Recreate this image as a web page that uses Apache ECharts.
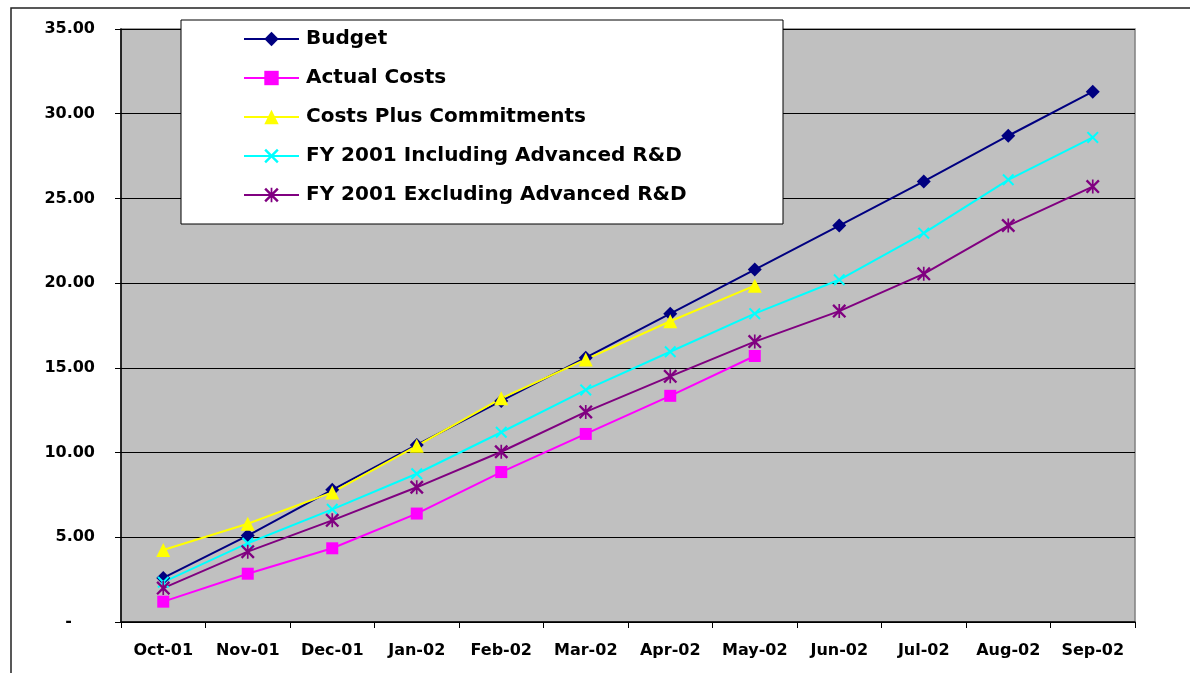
<!DOCTYPE html>
<html>
<head>
<meta charset="utf-8">
<script src="https://cdn.jsdelivr.net/npm/echarts@6/dist/echarts.min.js"></script>
<style>html,body{margin:0;padding:0;background:#fff}#c{width:1190px;height:673px}</style>
</head>
<body>
<div id="c"></div>
<script>
var categories = ['Oct-01','Nov-01','Dec-01','Jan-02','Feb-02','Mar-02','Apr-02','May-02','Jun-02','Jul-02','Aug-02','Sep-02'];
var budget = [2.6, 5.1, 7.8, 10.45, 13.05, 15.6, 18.2, 20.8, 23.4, 26.0, 28.7, 31.3];
var actualCosts = [1.2, 2.85, 4.35, 6.4, 8.85, 11.1, 13.35, 15.7];
var costsPlusCommitments = [4.25, 5.8, 7.65, 10.4, 13.2, 15.5, 17.75, 19.85];
var fyIncluding = [2.35, 4.65, 6.65, 8.75, 11.2, 13.7, 15.95, 18.2, 20.2, 22.95, 26.1, 28.6];
var fyExcluding = [2.0, 4.15, 6.0, 7.95, 10.05, 12.4, 14.5, 16.55, 18.35, 20.55, 23.4, 25.7];
var seriesNames = ['Budget','Actual Costs','Costs Plus Commitments','FY 2001 Including Advanced R&D','FY 2001 Excluding Advanced R&D'];

var xPath = 'path://M0,1.2 L1.2,0 L5,3.8 L8.8,0 L10,1.2 L6.2,5 L10,8.8 L8.8,10 L5,6.2 L1.2,10 L0,8.8 L3.8,5 Z';
var starPath = 'path://M0,1.2 L1.2,0 L5,3.8 L8.8,0 L10,1.2 L6.2,5 L10,8.8 L8.8,10 L5,6.2 L1.2,10 L0,8.8 L3.8,5 Z M4.4,0 L5.6,0 L5.6,10 L4.4,10 Z';

var font = 'DejaVu Sans';
function mk(name, data, color, symbol, size) {
  return {
    name: name, type: 'line', data: data, symbol: symbol, symbolSize: size,
    showAllSymbol: true,
    lineStyle: {color: color, width: 2},
    itemStyle: {color: color, borderColor: color, borderWidth: 0},
    emphasis: {disabled: true},
    animation: false
  };
}

var chart = echarts.init(document.getElementById('c'), null, {renderer: 'canvas'});
chart.setOption({
  animation: false,
  grid: {left: 121, right: 55, top: 29, bottom: 51, show: true, backgroundColor: '#C0C0C0', borderColor: '#808080', borderWidth: 1.5},
  graphic: [
    {type: 'polyline', shape: {points: [[11,673],[11,8],[1190,8]]}, style: {stroke: '#222', lineWidth: 1.5, fill: null}, z: 1},
    {type: 'rect', shape: {x: 181, y: 20, width: 602, height: 204}, style: {fill: '#fff', stroke: '#000', lineWidth: 1}, z: 20}
  ],
  legend: {
    orient: 'vertical', left: 243, top: 29, padding: 0, itemWidth: 55, itemHeight: 18, itemGap: 19,
    z: 30,
    data: seriesNames,
    lineStyle: {width: 2},
    textStyle: {fontFamily: font, fontWeight: 'bold', fontSize: 20, color: '#000', lineHeight: 20, padding: [0,0,0,2]},
    selectedMode: false
  },
  xAxis: {
    type: 'category', data: categories, boundaryGap: true,
    axisLine: {lineStyle: {color: '#000', width: 1.5}},
    axisTick: {show: true, length: 6, lineStyle: {color: '#000'}, alignWithLabel: false},
    axisLabel: {fontFamily: font, fontWeight: 'bold', fontSize: 16, color: '#000', margin: 21, interval: 0}
  },
  yAxis: {
    type: 'value', min: 0, max: 35, interval: 5,
    axisLine: {show: true, lineStyle: {color: '#000', width: 1.5}},
    axisTick: {show: true, length: 6, lineStyle: {color: '#000'}},
    splitLine: {show: true, lineStyle: {color: '#000', width: 1}},
    axisLabel: {
      fontFamily: font, fontWeight: 'bold', fontSize: 16, color: '#000', margin: 26,
      formatter: function (v) { return v === 0 ? '{d|-}' : v.toFixed(2); },
      rich: {d: {fontFamily: font, fontWeight: 'bold', fontSize: 16, color: '#000', padding: [0, 23, 0, 0]}}
    }
  },
  series: [
    mk(seriesNames[0], budget, '#000080', 'diamond', 14),
    mk(seriesNames[1], actualCosts, '#FF00FF', 'rect', 12),
    mk(seriesNames[2], costsPlusCommitments, '#FFFF00', 'triangle', 14),
    mk(seriesNames[3], fyIncluding, '#00FFFF', xPath, 12),
    mk(seriesNames[4], fyExcluding, '#800080', starPath, 14)
  ]
});
</script>
</body>
</html>
